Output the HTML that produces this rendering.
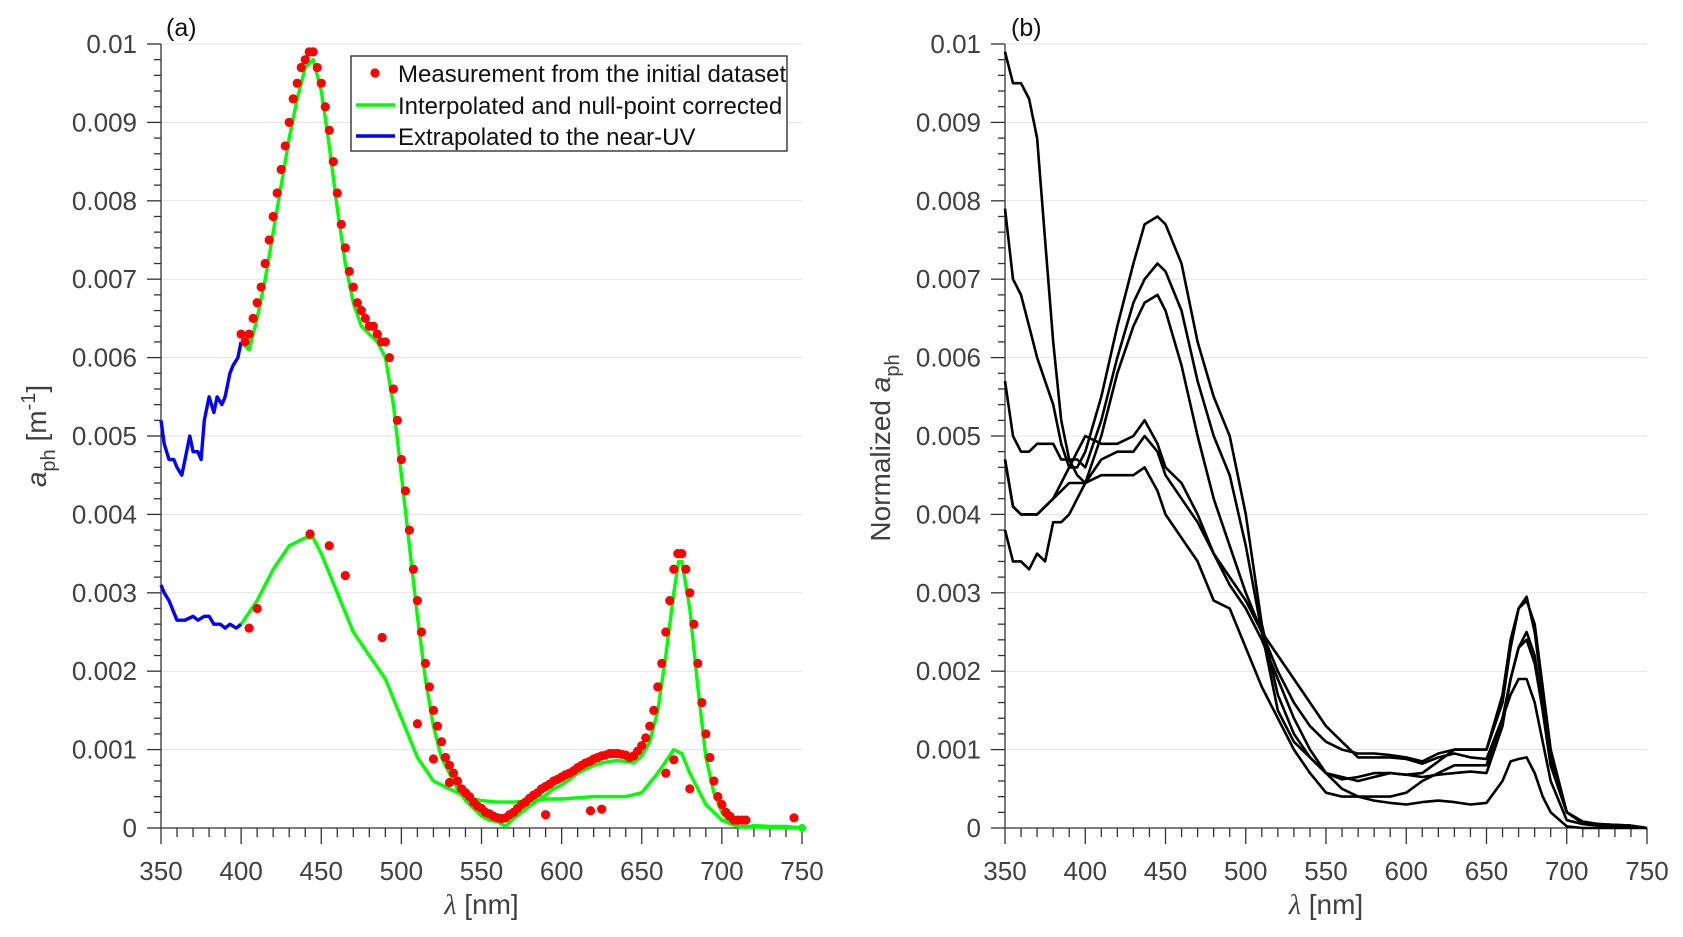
<!DOCTYPE html>
<html><head><meta charset="utf-8">
<style>
html,body{margin:0;padding:0;background:#fff;}
svg{display:block;font-family:"Liberation Sans",sans-serif;}
</style></head>
<body>
<svg id="fig" width="1683" height="937" viewBox="0 0 1683 937" xmlns="http://www.w3.org/2000/svg">
<g id="pa"></g>
<g id="pb"></g>
</svg>
<script>
// ---------- data panel (a) ----------
const xTicks = [350,400,450,500,550,600,650,700,750];
const yTicks = [0,0.001,0.002,0.003,0.004,0.005,0.006,0.007,0.008,0.009,0.01];
const yTickLabels = ["0","0.001","0.002","0.003","0.004","0.005","0.006","0.007","0.008","0.009","0.01"];
const redStart = 400, redStep = 2.5;
const redMainV = [.0063,.0062,.0063,.0065,.0067,.0069,.0072,.0075,.0078,.0081,.0084,.0087,.0090,.0093,.0095,.0097,.0098,.0099,.0099,.0097,.0095,.0092,.0089,.0085,.0081,.0077,.0074,.0071,.0069,.0067,.0066,.0065,.0064,.0064,.0063,.0062,.0062,.0060,.0056,.0052,.0047,.0043,.0038,.0033,.0029,.0025,.0021,.0018,.0015,.0013,.0011,.0009,.0008,.0007,.0006,.0005,.00045,.0004,.00033,.00028,.00025,.0002,.00018,.00015,.00013,.00012,.00013,.00017,.0002,.00025,.0003,.00033,.00038,.00042,.00045,.0005,.00053,.00056,.0006,.00062,.00065,.00068,.0007,.00073,.00077,.0008,.00083,.00085,.00088,.0009,.00092,.00093,.00095,.00095,.00095,.00094,.00093,.0009,.00092,.00098,.00105,.00115,.0013,.0015,.0018,.0021,.0025,.0029,.0033,.0035,.0035,.0033,.003,.0026,.0021,.0016,.0012,.0009,.0006,.0004,.0003,.0002,.00015,.0001,.0001,.0001,.0001];
const greenMainW = [400,405,410,415,420,425,430,435,440,445,450,455,460,465,470,475,480,485,490,495,500,505,510,515,520,525,530,535,540,545,550,555,560,565,570,575,580,585,590,595,600,605,610,615,620,625,630,635,640,645,650,655,660,665,670,673,675,680,685,690,695,700,705,710,715,720,730,740,750];
const greenMainV = [.0062,.0061,.0065,.0070,.0076,.0082,.0088,.0093,.0097,.0098,.0094,.0087,.0079,.0072,.0067,.0064,.0063,.0062,.0060,.0054,.0045,.0036,.0027,.0019,.0013,.0009,.0007,.0005,.00035,.00025,.00015,.0001,.00008,.00002,.00012,.0002,.00028,.00035,.00042,.0005,.00055,.00062,.0007,.00075,.0008,.00083,.00085,.00086,.00085,.00083,.00092,.0011,.0015,.0022,.003,.0034,.0034,.0028,.0018,.0009,.00045,.0002,.00006,.00002,.00001,.00003,.00002,.00002,0];
const blueUpW = [350,352,355,358,360,363,365,368,370,373,375,377,380,383,385,388,390,393,395,398,400];
const blueUpV = [.0052,.0049,.0047,.0047,.0046,.0045,.0047,.0050,.0048,.0048,.0047,.0052,.0055,.0053,.0055,.0054,.0055,.0058,.0059,.0060,.0062];
const blueLoW = [350,352,355,358,360,365,370,373,377,380,383,387,390,393,397,400];
const blueLoV = [.0031,.0030,.0029,.00275,.00265,.00265,.0027,.00265,.0027,.0027,.0026,.0026,.00255,.0026,.00255,.0026];
const greenLoW = [400,410,420,430,440,445,450,460,470,480,490,500,510,520,530,540,550,560,570,580,590,600,620,640,650,660,670,675,680,690,700,710,750];
const greenLoV = [.0026,.0029,.0033,.0036,.0037,.0037,.0035,.0030,.0025,.0022,.0019,.0014,.0009,.0006,.0005,.0004,.00035,.00033,.00033,.00035,.00037,.00037,.0004,.0004,.00045,.0007,.001,.00095,.0007,.0003,.0001,.00002,0];
const redLoW = [405,410,443,455,465,488,510,520,530,590,618,625,665,670,680,745];
const redLoV = [.00255,.0028,.00375,.0036,.00322,.00243,.00133,.00088,.00058,.00017,.00022,.00024,.0007,.00087,.0005,.00013];
// ---------- data panel (b) ----------
const bW = [350,355,360,365,370,375,380,385,390,395,400,410,420,430,437,445,450,460,470,480,490,500,510,520,530,540,550,560,570,580,590,600,610,620,630,640,650,660,665,670,675,680,685,690,700,710,720,730,740,750];
const bC1 = [.0099,.0095,.0095,.0093,.0088,.0075,.0062,.0052,.0047,.0045,.0044,.0050,.0058,.0064,.0067,.0068,.0066,.0059,.0050,.0042,.0036,.0030,.0025,.0020,.0016,.0013,.0011,.0010,.00095,.00095,.00093,.0009,.00085,.00095,.001,.001,.001,.0016,.0023,.0028,.00295,.0025,.0017,.0009,.0002,.00008,.00005,.00004,.00003,0];
const bC2 = [.0079,.0070,.0068,.0064,.0060,.0057,.0054,.0049,.0046,.0046,.0048,.0055,.0064,.0072,.0077,.0078,.0077,.0072,.0062,.0055,.0050,.0040,.0026,.0017,.0012,.0009,.0007,.00062,.00065,.0007,.0007,.00068,.00065,.00068,.0007,.00072,.0007,.0013,.0019,.0023,.0025,.0022,.0015,.0008,.0002,.00006,.00004,.00004,.00002,0];
const bC3 = [.0057,.0050,.0048,.0048,.0049,.0049,.0049,.0047,.0047,.0047,.0046,.0052,.0060,.0067,.0070,.0072,.0071,.0066,.0057,.0050,.0045,.0036,.0025,.0015,.0011,.0009,.0007,.00065,.0006,.00065,.0007,.00068,.0007,.00085,.001,.001,.001,.0017,.0024,.0028,.0029,.0026,.0018,.001,.0002,.00008,.00005,.00004,.00003,0];
const bC4 = [.0047,.0041,.0040,.0040,.0040,.0041,.0042,.0044,.0046,.0048,.0050,.0049,.0049,.0050,.0052,.0049,.0046,.0044,.0040,.0035,.0032,.0029,.0025,.0022,.0019,.0016,.0013,.0011,.0009,.0009,.0009,.00088,.00082,.0009,.00095,.0009,.00088,.0014,.0017,.0019,.0019,.0016,.0011,.0006,.0001,.00005,.00003,.00002,.00002,0];
const bC5 = [.0038,.0034,.0034,.0033,.0035,.0034,.0039,.0039,.0040,.0042,.0044,.0047,.0048,.0048,.0050,.0048,.0045,.0042,.0039,.0035,.0031,.0028,.0024,.0019,.0014,.0010,.0007,.0005,.0004,.0004,.0004,.00045,.0006,.0007,.0008,.0008,.0008,.0014,.0019,.0023,.0024,.0021,.0015,.0008,.0002,.00006,.00003,.00003,.00002,0];
const bC6 = [.0047,.0041,.0040,.0040,.0040,.0041,.0042,.0043,.0044,.0044,.0044,.0045,.0045,.0045,.0046,.0043,.0040,.0037,.0034,.0029,.0028,.0023,.0018,.0014,.0010,.0007,.00045,.0004,.0004,.00035,.00032,.0003,.00033,.00035,.00033,.0003,.00032,.0006,.00085,.00088,.0009,.0007,.0004,.0002,.00002,0,0,0,0,0];

const NS = "http://www.w3.org/2000/svg";
function mk(parent, tag, attrs){ const e=document.createElementNS(NS,tag); for(const k in attrs) e.setAttribute(k,attrs[k]); parent.appendChild(e); return e; }

function axes(g, L, R, T, B){
  const sx = w => L + (w-350)/400*(R-L);
  const sy = v => B - v/0.01*(B-T);
  yTicks.forEach((v,i)=>{ if(i>0){ const gl=mk(g,'line',{x1:L,x2:R,y1:sy(v),y2:sy(v),stroke:'#e3e3e3','stroke-width':1});
    
     }});
  for(let k=0;k<=50;k++){ const v=k*0.0002; const maj = k%5===0;
    mk(g,'line',{x1:L-(maj?14:7),x2:L,y1:sy(v),y2:sy(v),stroke:'#333','stroke-width':1.3}); }
  for(let w=350; w<=750; w+=10){ const maj=(w%50===0);
    mk(g,'line',{x1:sx(w),x2:sx(w),y1:B,y2:B+(maj?16:9),stroke:'#333','stroke-width':1.3}); }
  mk(g,'line',{x1:L,x2:L,y1:T,y2:B,stroke:'#333','stroke-width':1.3});
  mk(g,'line',{x1:L,x2:R,y1:B,y2:B,stroke:'#333','stroke-width':1.3});
  yTicks.forEach((v,i)=>{ const t=mk(g,'text',{x:L-24,y:sy(v)+9,'text-anchor':'end','font-size':26,fill:'#404040'}); t.textContent=yTickLabels[i];
    
     });
  xTicks.forEach(w=>{ const t=mk(g,'text',{x:sx(w),y:B+52,'text-anchor':'middle','font-size':26,fill:'#404040'}); t.textContent=String(w);
    
     });
  const xt=mk(g,'text',{x:(L+R)/2,y:914,'text-anchor':'middle','font-size':28,fill:'#404040'});
  xt.innerHTML='<tspan font-style="italic" font-family="Liberation Serif">λ</tspan> [nm]';
  
  
  return {sx,sy};
}
function line(g,s,W,V,color,w){ const d=W.map((x,i)=>(i?'L':'M')+s.sx(x).toFixed(1)+','+s.sy(V[i]).toFixed(1)).join('');
  return mk(g,'path',{d,fill:'none',stroke:color,'stroke-width':w,'stroke-linejoin':'round'}); }

const ga=document.getElementById('pa');
const sa=axes(ga,161,802,44,828);
let p;
p=line(ga,sa,greenMainW,greenMainV,'#00ff00',3.4);


p=line(ga,sa,greenLoW,greenLoV,'#00ff00',3.4);


p=line(ga,sa,blueUpW,blueUpV,'#0000ff',3.4);


p=line(ga,sa,blueLoW,blueLoV,'#0000ff',3.4);


redMainV.forEach((v,i)=>{ const c=mk(ga,'circle',{cx:sa.sx(redStart+i*redStep),cy:sa.sy(v),r:4.6,fill:'#ff0000'});
  
   });
redLoV.forEach((v,i)=>{ const c=mk(ga,'circle',{cx:sa.sx(redLoW[i]),cy:sa.sy(v),r:4.6,fill:'#ff0000'});
  
   });
mk(ga,'circle',{cx:sa.sx(750),cy:sa.sy(0),r:4,fill:'#00ff00'});
let t=mk(ga,'text',{x:166,y:36,'font-size':25,fill:'#111'}); t.textContent='(a)';


let yt=mk(ga,'text',{transform:'translate(46,436) rotate(-90)','text-anchor':'middle','font-size':28,fill:'#404040'});
yt.innerHTML='<tspan font-style="italic">a</tspan><tspan font-size="20" dy="9">ph</tspan><tspan dy="-9"> [m</tspan><tspan font-size="20" dy="-11">-1</tspan><tspan dy="11">]</tspan>';


const lg=mk(ga,'g',{});


mk(lg,'rect',{x:351,y:56,width:436,height:95,fill:'#fff',stroke:'#222','stroke-width':1.3});
mk(lg,'circle',{cx:375,cy:73,r:4.6,fill:'#ff0000'});
mk(lg,'line',{x1:356,x2:395,y1:105,y2:105,stroke:'#00ff00','stroke-width':3.4});
mk(lg,'line',{x1:356,x2:395,y1:136,y2:136,stroke:'#0000ff','stroke-width':3.4});
[['Measurement from the initial dataset',82],['Interpolated and null-point corrected',114],['Extrapolated to the near-UV',145]].forEach(a=>{
  const e=mk(lg,'text',{x:398,y:a[1],'font-size':24,fill:'#111'}); e.textContent=a[0];
  
   });

const gb=document.getElementById('pb');
const sb=axes(gb,1005,1647,44,828);
[bC1,bC2,bC3,bC4,bC5,bC6].forEach((c,i)=>{ const q=line(gb,sb,bW,c,'#000',2.6);
  
   });
t=mk(gb,'text',{x:1011,y:36,'font-size':25,fill:'#111'}); t.textContent='(b)';


yt=mk(gb,'text',{transform:'translate(890,448) rotate(-90)','text-anchor':'middle','font-size':28,fill:'#404040'});
yt.innerHTML='Normalized  <tspan font-style="italic">a</tspan><tspan font-size="20" dy="9">ph</tspan>';


</script>
</body></html>
